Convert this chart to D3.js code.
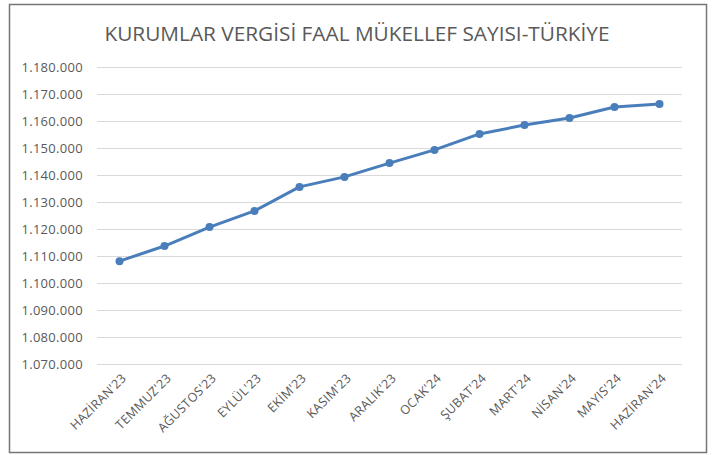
<!DOCTYPE html>
<html>
<head>
<meta charset="utf-8">
<script src="https://cdn.jsdelivr.net/npm/d3@7"></script>
<style>
  body { margin: 0; background: #fff; }
  text { font-family: "Open Sans", "Noto Sans", sans-serif; fill: #595959; }
</style>
</head>
<body>
<div id="chart"></div>
<script>
// chart data
var months = ["HAZİRAN'23", "TEMMUZ'23", "AĞUSTOS'23", "EYLÜL'23", "EKİM'23", "KASIM'23", "ARALIK'23",
  "OCAK'24", "ŞUBAT'24", "MART'24", "NİSAN'24", "MAYIS'24", "HAZİRAN'24"];
var taxpayers = [1108100, 1113700, 1120700, 1126700, 1135600, 1139300, 1144400,
  1149300, 1155200, 1158500, 1161100, 1165200, 1166300];
var yTicks = [1070000, 1080000, 1090000, 1100000, 1110000, 1120000, 1130000,
  1140000, 1150000, 1160000, 1170000, 1180000];
var chartTitle = "KURUMLAR VERGİSİ FAAL MÜKELLEF SAYISI-TÜRKİYE";

var svgWidth = 714;
var svgHeight = 455;
var margin = { top: 67, right: 32, bottom: 91, left: 97 };
var width = svgWidth - margin.left - margin.right;
var height = svgHeight - margin.top - margin.bottom;

var svg = d3.select("#chart")
  .append("svg")
  .attr("width", svgWidth)
  .attr("height", svgHeight);

// outer frame
svg.append("rect")
  .attr("x", 9.5).attr("y", 4.5)
  .attr("width", 697).attr("height", 448)
  .attr("fill", "#fff")
  .attr("stroke", "#767676")
  .attr("stroke-width", 1.5);

svg.append("text")
  .attr("x", 357).attr("y", 41)
  .attr("text-anchor", "middle")
  .attr("font-size", "20.8px")
  .text(chartTitle);

var chartGroup = svg.append("g")
  .attr("transform", `translate(${margin.left}, ${margin.top})`);

var xScale = d3.scalePoint()
  .domain(months)
  .range([0, width])
  .padding(0.5);

var yScale = d3.scaleLinear()
  .domain([1070000, 1180000])
  .range([height, 0]);

var fmt = d3.formatLocale({ decimal: ",", thousands: ".", grouping: [3], currency: ["", ""] }).format(",");

// gridlines + y labels
var leftAxis = d3.axisLeft(yScale)
  .tickValues(yTicks)
  .tickSize(-width)
  .tickPadding(14)
  .tickFormat(fmt);

var yAxis = chartGroup.append("g").call(leftAxis);
yAxis.select(".domain").remove();
yAxis.selectAll("line").attr("stroke", "#d9d9d9").attr("stroke-width", 1);
yAxis.selectAll("text")
  .attr("font-size", "13px")
  .attr("letter-spacing", "0.3px")
  .attr("fill", "#595959")
  .style("font-family", "'Open Sans', sans-serif");

// x labels
var bottomAxis = d3.axisBottom(xScale).tickSize(0).tickPadding(0);
var xAxis = chartGroup.append("g")
  .attr("transform", `translate(0, ${height})`)
  .call(bottomAxis);
xAxis.select(".domain").remove();
xAxis.selectAll("text")
  .attr("font-size", "12.5px")
  .attr("letter-spacing", "0.3px")
  .attr("fill", "#595959")
  .style("font-family", "'Open Sans', sans-serif")
  .attr("text-anchor", "end")
  .attr("dy", "0")
  .attr("y", 0)
  .attr("transform", "translate(7, 15) rotate(-45)");

var line = d3.line()
  .x((d, i) => xScale(months[i]))
  .y(d => yScale(d));

chartGroup.append("path")
  .datum(taxpayers)
  .attr("fill", "none")
  .attr("stroke", "#4a7ebb")
  .attr("stroke-width", 3)
  .attr("stroke-linejoin", "round")
  .attr("d", line);

chartGroup.selectAll("circle")
  .data(taxpayers)
  .enter()
  .append("circle")
  .attr("cx", (d, i) => xScale(months[i]))
  .attr("cy", d => yScale(d))
  .attr("r", 4)
  .attr("fill", "#4a7ebb");
</script>
</body>
</html>
